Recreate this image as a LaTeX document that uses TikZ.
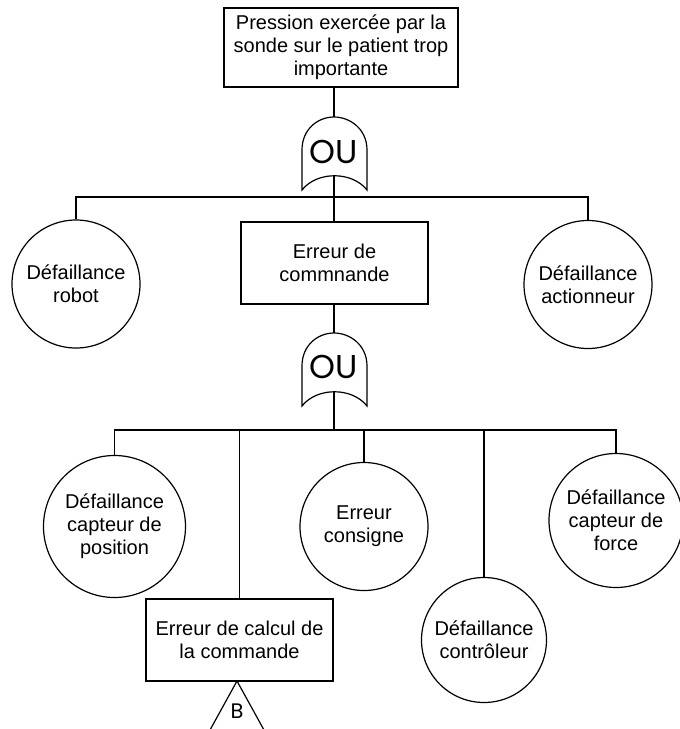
\documentclass[tikz,border=0pt]{standalone}
\usepackage{fontspec}
\setmainfont{Liberation Sans}
\newfontfamily\gatefont{Poppins}
\begin{document}
\begin{tikzpicture}[x=1pt,y=-1pt, line width=1.2pt,
  txt/.style={font=\fontsize{20}{23}\selectfont, align=center, inner sep=0pt},
  evbox/.style={txt, draw, rectangle},
  basicev/.style={txt, draw, circle},
  gatelbl/.style={font=\gatefont\fontsize{33}{33}\selectfont, inner sep=0pt},
  orgate/.pic={
    \draw (-32,73) -- (-32,33) .. controls (-32,12) and (-16,0) .. (0,0)
          .. controls (16,0) and (33,12) .. (33,33) -- (33,73)
          .. controls (18,54) and (-17,54) .. (-32,73) -- cycle;
  }
]
\fill[white] (0,0) rectangle (680,729);
\useasboundingbox (0,0) rectangle (680,729);

% top event
\node[evbox, minimum width=234, minimum height=79] (top) at (341,47.5)
  {Pression exercée par la\\sonde sur le patient trop\\importante};

% gate 1
\pic at (334,117) {orgate};
\coordinate (g1in) at (334,117);
\coordinate (g1out) at (334,176);
\node[gatelbl] (ou1) at (334,152) {OU};
\coordinate (bus1) at (334,197);

% level 1
\node[basicev, minimum size=128] (robot) at (76,284) {Défaillance\\robot};
\node[evbox, minimum width=187, minimum height=82] (cmd) at (334.5,263)
  {Erreur de\\commnande};
\node[basicev, minimum size=128] (act) at (588,284.5) {Défaillance\\actionneur};

\draw (g1in |- top.south) -- (g1in);
\draw (g1out) -- (bus1);
\draw (robot.north) |- (bus1) -| (act.north);
\draw (bus1) -- (bus1 |- cmd.north);

% gate 2
\pic at (334,333) {orgate};
\coordinate (g2in) at (334,333);
\coordinate (g2out) at (334,392);
\node[gatelbl] (ou2) at (334,367) {OU};
\coordinate (bus2) at (334,430);

\draw (g2in |- cmd.south) -- (g2in);
\draw (g2out) -- (bus2);

% level 2
\node[basicev, minimum size=142] (pos) at (114.5,526.5) {Défaillance\\capteur de\\position};
\node[evbox, minimum width=187, minimum height=82] (calc) at (239.5,640)
  {Erreur de calcul de\\la commande};
\node[basicev, minimum size=128] (cons) at (364,526.5) {Erreur\\consigne};
\node[basicev, minimum size=125] (ctrl) at (484,640) {Défaillance\\contrôleur};
\node[basicev, minimum size=134] (force) at (616,520.5) {Défaillance\\capteur de\\force};

\draw (pos.north) |- (bus2) -| (force.north);
\draw (calc.north) -- (calc.north |- bus2);
\draw (cons.north) -- (cons.north |- bus2);
\draw (ctrl.north) -- (ctrl.north |- bus2);

% transfer triangle
\coordinate (tapex) at (237,681);
\draw (tapex) -- (210,730);
\draw (tapex) -- (264,730);
\node[font=\gatefont\fontsize{21}{21}\selectfont, inner sep=0pt] (tB) at (237,711) {B};
\end{tikzpicture}
\end{document}
